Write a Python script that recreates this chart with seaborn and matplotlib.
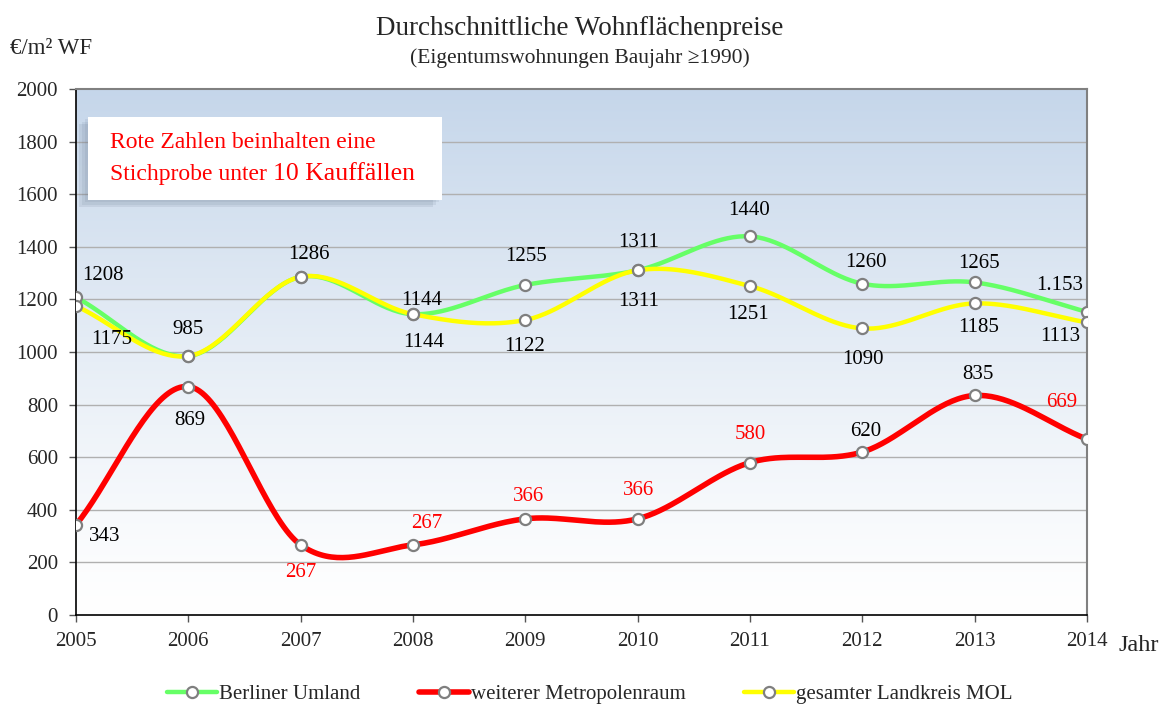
import numpy as np
import matplotlib
matplotlib.use("Agg")
import matplotlib.pyplot as plt
import seaborn as sns
from matplotlib.lines import Line2D
from matplotlib.patches import Rectangle

years = [2005, 2006, 2007, 2008, 2009, 2010, 2011, 2012, 2013, 2014]
umland = [1208, 985, 1286, 1144, 1255, 1311, 1440, 1260, 1265, 1153]
metro = [343, 869, 267, 267, 366, 366, 580, 620, 835, 669]
mol = [1175, 985, 1286, 1144, 1122, 1311, 1251, 1090, 1185, 1113]

umland_labels = ["1208", "985", "1286", "1144", "1255", "1311", "1440", "1260", "1265", "1.153"]
metro_labels = ["343", "869", "267", "267", "366", "366", "580", "620", "835", "669"]
mol_labels = ["1175", "", "", "1144", "1122", "1311", "1251", "1090", "1185", "1113"]
metro_red = [False, False, True, True, True, True, True, False, False, True]

names = ["Berliner Umland", "weiterer Metropolenraum", "gesamter Landkreis MOL"]
colors = ["#66ff66", "#ff0000", "#ffff00"]

sns.set_style("white")
plt.rcParams["font.family"] = ["Liberation Serif", "DejaVu Serif"]


def smooth(x, y, n=40):
    """Catmull-Rom curve through the points (spreadsheet-style line smoothing)."""
    x = np.asarray(x, float)
    y = np.asarray(y, float)
    px = np.concatenate([[2 * x[0] - x[1]], x, [2 * x[-1] - x[-2]]])
    py = np.concatenate([[2 * y[0] - y[1]], y, [2 * y[-1] - y[-2]]])
    xs, ys = [], []
    t = np.linspace(0, 1, n, endpoint=False)
    h00 = 2 * t**3 - 3 * t**2 + 1
    h10 = t**3 - 2 * t**2 + t
    h01 = -2 * t**3 + 3 * t**2
    h11 = t**3 - t**2
    for i in range(1, len(px) - 2):
        for arr, out in ((px, xs), (py, ys)):
            p0, p1, p2, p3 = arr[i - 1], arr[i], arr[i + 1], arr[i + 2]
            m1 = (p2 - p0) / 2
            m2 = (p3 - p1) / 2
            out.extend(h00 * p1 + h10 * m1 + h01 * p2 + h11 * m2)
    xs.append(x[-1])
    ys.append(y[-1])
    return np.array(xs), np.array(ys)


fig = plt.figure(figsize=(11.65, 7.07), dpi=100)
ax = fig.add_axes([0.0652, 0.130, 0.8678, 0.744])

# vertical gradient background
grad = np.linspace(0, 1, 256)[:, None]
top = np.array([197, 214, 234]) / 255
bot = np.array([255, 255, 255]) / 255
w = grad ** 1.2
img = bot[None, None, :] * (1 - w[..., None]) + top[None, None, :] * w[..., None]
img = np.repeat(img, 2, axis=1)
ax.imshow(img, extent=[2005, 2014, 0, 2000], origin="lower", aspect="auto", zorder=0)

ax.set_xlim(2005, 2014)
ax.set_ylim(0, 2000)
ax.set_yticks(range(0, 2001, 200))
ax.set_xticks(years)
ax.set_xticklabels([str(y) for y in years])
for yv in range(200, 2000, 200):
    ax.axhline(yv, color="#b0b0b0", lw=1.0, zorder=1)

series = [umland, metro, mol]
zorders = [3, 4, 5]
lws = [3.2, 4.0, 3.2]
for vals, col, z, lw in zip(series, colors, zorders, lws):
    sx, sy = smooth(years, vals)
    sns.lineplot(x=sx, y=sy, ax=ax, color=col, lw=lw, zorder=z, sort=False,
                 estimator=None, legend=False)
for vals, z in zip(series, zorders):
    ax.plot(years, vals, ls="none", marker="o", ms=8, mfc="white", mec="#7f7f7f",
            mew=1.6, zorder=z + 0.5)

fs = 15
# label offsets in pixels (dx, dy)
umland_off = [(27, 22), (0, 27), (8, 22), (9, 14), (1, 29), (1, 28), (-1, 26), (4, 21), (4, 19), (-27, 26)]
mol_off = [(36, -33), (0, 0), (0, 0), (11, -28), (-1, -27), (1, -31), (-2, -28), (1, -31), (4, -24), (-27, -14)]
metro_off = [(29, -12), (2, -34), (0, -28), (14, 21), (3, 22), (1, 28), (0, 28), (3, 21), (3, 21), (-25, 37)]

for i, yr in enumerate(years):
    ax.annotate(umland_labels[i], (yr, umland[i]), xytext=umland_off[i],
                textcoords="offset pixels", ha="center", va="center", fontsize=fs,
                color="black", zorder=10)
    if mol_labels[i]:
        ax.annotate(mol_labels[i], (yr, mol[i]), xytext=mol_off[i],
                    textcoords="offset pixels", ha="center", va="center", fontsize=fs,
                    color="black", zorder=10)
    ax.annotate(metro_labels[i], (yr, metro[i]), xytext=metro_off[i],
                textcoords="offset pixels", ha="center", va="center", fontsize=fs,
                color="red" if metro_red[i] else "black", zorder=10)

# note box with soft shadow
for k, a in enumerate([0.10, 0.10, 0.12]):
    d = 0.003 * (k + 1)
    ax.add_patch(Rectangle((0.0119 - d, 0.789 - d * 1.5), 0.350, 0.158,
                           transform=ax.transAxes, facecolor="#5a6a80", alpha=a,
                           edgecolor="none", zorder=7))
ax.add_patch(Rectangle((0.0119, 0.789), 0.350, 0.158, transform=ax.transAxes,
                       facecolor="white", edgecolor="none", zorder=8))
ax.text(0.0336, 0.899, "Rote Zahlen beinhalten eine", transform=ax.transAxes,
        color="red", fontsize=17, ha="left", va="center", zorder=9)
t2 = ax.text(0.0336, 0.828, "Stichprobe unter ", transform=ax.transAxes,
             color="red", fontsize=17, ha="left", va="baseline", zorder=9)
ax.annotate("10 Kauffällen", xy=(1, 0), xycoords=t2, xytext=(0, 0),
            textcoords="offset points", color="red", fontsize=18.5, ha="left",
            va="bottom", zorder=9)

for s in ["top", "right"]:
    ax.spines[s].set_color("#808080")
    ax.spines[s].set_linewidth(1.5)
for s in ["left", "bottom"]:
    ax.spines[s].set_color("black")
    ax.spines[s].set_linewidth(1.2)
ax.tick_params(axis="both", which="both", direction="out", length=5, width=1,
               color="#555555", labelsize=15, left=True, bottom=True)
ax.tick_params(axis="y", pad=8)
ax.tick_params(axis="x", pad=7)

fig.text(0.498, 0.960, "Durchschnittliche Wohnflächenpreise", ha="center", va="center",
         fontsize=19.5)
fig.text(0.498, 0.918, "(Eigentumswohnungen Baujahr ≥1990)", ha="center", va="center",
         fontsize=15.5)
fig.text(0.009, 0.932, "€/m² WF", ha="left", va="center", fontsize=16.5)
fig.text(0.960, 0.087, "Jahr", ha="left", va="center", fontsize=17.5)

handles = [Line2D([], [], color=c, lw=lw, marker="o", ms=8, mfc="white", mec="#7f7f7f", mew=1.6)
           for c, lw in zip(colors, lws)]
fig.legend(handles, names, loc="center", bbox_to_anchor=(0.506, 0.018), ncol=3,
           frameon=False, fontsize=15, handlelength=2.4, handletextpad=0.1,
           columnspacing=2.8)

fig.savefig("out.png", dpi=100)
